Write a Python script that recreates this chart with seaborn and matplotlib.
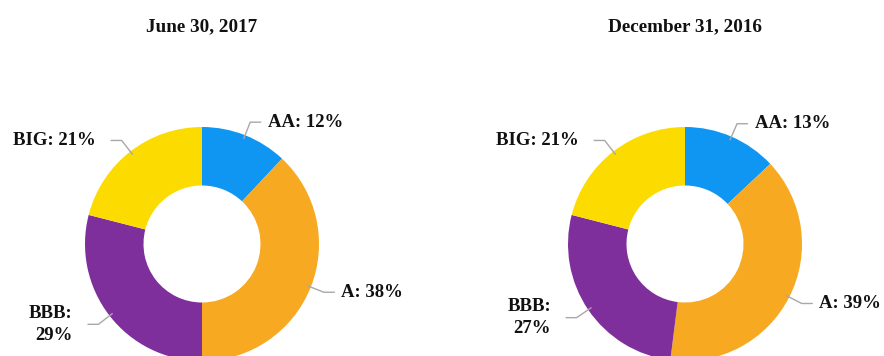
import numpy as np
import matplotlib
matplotlib.use("Agg")
import matplotlib.pyplot as plt
import seaborn as sns

sns.set_theme(style="white")
plt.rcParams['font.family'] = ['Liberation Serif', 'DejaVu Serif']

categories = ["AA", "A", "BBB", "BIG"]
june_2017 = [12, 38, 29, 21]
dec_2016 = [13, 39, 27, 21]
titles = ["June 30, 2017", "December 31, 2016"]
colors = ["#0E96F2", "#F7A922", "#7F2F9B", "#FCDC00"]

W, H = 884, 356
R = 117.0
fig = plt.figure(figsize=(W / 100, H / 100), dpi=100)
fig.patch.set_facecolor("white")

centers_px = [(202, 244), (685, 244)]
half_w = 1.85

for (cx, cy), vals, title in zip(centers_px, [june_2017, dec_2016], titles):
    left_px = cx - half_w * R
    width_px = 2 * half_w * R
    ax = fig.add_axes([left_px / W, 0, width_px / W, 1])
    ax.pie(vals, colors=colors, startangle=90, counterclock=False,
           radius=1.0, wedgeprops=dict(width=0.5, edgecolor="none"))
    ax.set_xlim(-half_w, half_w)
    ybot = -(H - cy) / R
    ytop = cy / R
    ax.set_ylim(ybot, ytop)
    ax.set_aspect("auto")
    ax.axis("off")

    ax.text(0, (cy - 27) / R, title, ha="center", va="center",
            fontsize=13.8, fontweight="bold", color="#111111")

    start = 90.0
    for cat, v in zip(categories, vals):
        span = v / 100 * 360
        mid = np.deg2rad(start - span / 2)
        start -= span
        x0, y0 = 0.97 * np.cos(mid), 0.97 * np.sin(mid)
        xe, ye = 1.12 * np.cos(mid), 1.12 * np.sin(mid)
        side = 1 if np.cos(mid) >= 0 else -1
        xt = xe + side * 0.09
        ax.plot([x0, xe, xt], [y0, ye, ye], color="#A8A8A8", lw=1.0,
                solid_capstyle="round", clip_on=False)
        if cat == "BBB":
            label = f"{cat}:\n{v}%"
        else:
            label = f"{cat}: {v}%"
        gap = 0.06 if side > 0 else 0.13
        ax.text(xt + side * gap, ye, label,
                ha="left" if side > 0 else "right", va="center",
                fontsize=13.5, fontweight="bold", color="#111111",
                multialignment="right", linespacing=1.35)

fig.savefig("out.png", dpi=100, facecolor="white")
